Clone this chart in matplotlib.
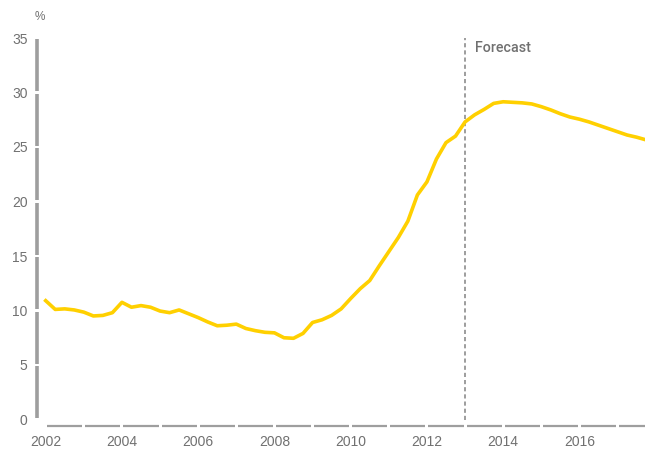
import matplotlib.pyplot as plt
import matplotlib.transforms as mtransforms
import numpy as np

plt.rcParams['font.family'] = ['Liberation Sans', 'DejaVu Sans']

# quarterly values, 2002 Q1 .. 2017 Q4
start_year = 2002
values = [10.9, 10.1, 10.15, 10.05, 9.85, 9.5, 9.55, 9.8,
          10.75, 10.3, 10.45, 10.3, 9.95, 9.8, 10.05, 9.7,
          9.35, 8.95, 8.6, 8.65, 8.75, 8.35, 8.15, 8.0,
          7.95, 7.5, 7.45, 7.9, 8.9, 9.15, 9.55, 10.15,
          11.1, 12.0, 12.75, 14.1, 15.4, 16.7, 18.2, 20.6,
          21.8, 23.9, 25.4, 26.0, 27.3, 27.95, 28.45, 29.0,
          29.15, 29.1, 29.05, 28.95, 28.7, 28.4, 28.05, 27.75,
          27.55, 27.3, 27.0, 26.7, 26.4, 26.1, 25.9, 25.65]
forecast_year = 2013
yticks = [0, 5, 10, 15, 20, 25, 30, 35]
xticks = [2002, 2004, 2006, 2008, 2010, 2012, 2014, 2016]

dates = start_year + np.arange(len(values)) / 4

fig = plt.figure(figsize=(6.45, 4.5), dpi=100)
ax = fig.add_axes([37.3 / 645, 30.5 / 450, (645 - 37.3) / 645, (419.5 - 38) / 450])

ax.plot(dates, values, color='#FFD000', lw=2.6, solid_joinstyle='round', zorder=3)
ax.axvline(forecast_year, color='#8c8c8c', lw=1.2, ls=(0, (2.5, 1.8)), zorder=2)
ax.text(forecast_year + 0.27, 34.1, 'Forecast', color='#707070', fontsize=10.3,
        family=['Roboto', 'DejaVu Sans'], fontweight='medium', va='center', ha='left')

ax.set_xlim(2001.78, 2017.72)
ax.set_ylim(0, 35)
for s in ax.spines.values():
    s.set_visible(False)

gray = '#9e9e9e'
# segmented y axis
ytr = mtransforms.blended_transform_factory(ax.transAxes, ax.transData)
for lo in yticks[:-1]:
    ax.plot([0, 0], [lo + 0.12, lo + 5 - 0.12], color=gray, lw=2.6,
            solid_capstyle='butt', transform=ytr, clip_on=False)
# segmented x axis, one piece per year
for yr in range(2002, 2018):
    ax.plot([yr + 0.04, min(yr + 0.96, 2017.72)], [-0.6, -0.6], color=gray, lw=1.6,
            solid_capstyle='butt', clip_on=False)

ax.set_yticks(yticks)
ax.set_xticks(xticks)
ax.tick_params(length=0, colors='#707070', labelsize=10)
ax.tick_params(axis='y', pad=7)
ax.tick_params(axis='x', pad=11)
ax.text(-0.005, 1.055, '%', transform=ax.transAxes, color='#707070', fontsize=8.5,
        ha='left', va='center')

fig.savefig('out.png', dpi=100)
